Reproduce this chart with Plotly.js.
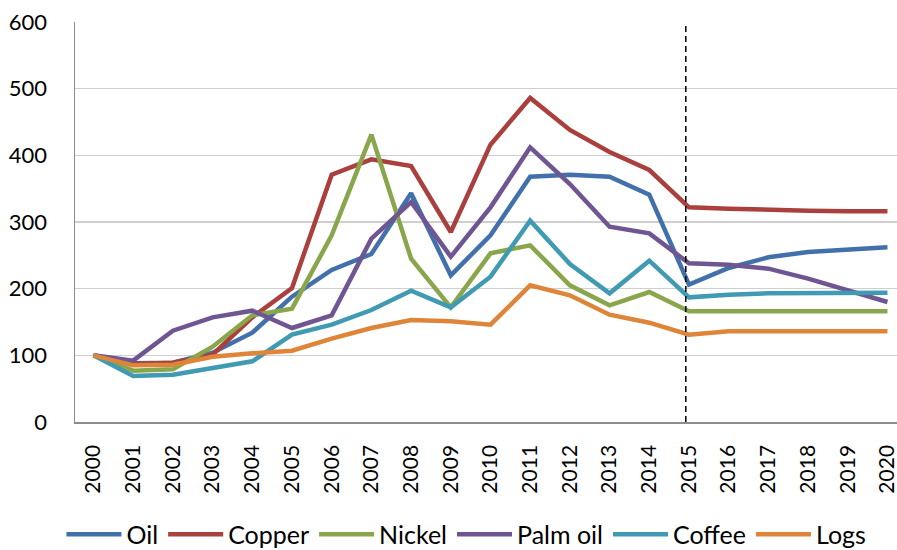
<!DOCTYPE html>
<html>
<head>
<meta charset="utf-8">
<script src="https://cdn.plot.ly/plotly-3.0.1.min.js"></script>
<style>
  html, body { margin: 0; padding: 0; background: #fff; }
  #chart { width: 897px; height: 550px; }
</style>
</head>
<body>
<div id="chart"></div>
<script>
// Commodity price indices (2000 = 100), with projections after 2015
const years = [2000, 2001, 2002, 2003, 2004, 2005, 2006, 2007, 2008, 2009, 2010,
               2011, 2012, 2013, 2014, 2015, 2016, 2017, 2018, 2019, 2020];

const oil     = [100, 88, 89, 104, 134, 188, 228, 252, 343, 220, 280, 368, 371, 368, 341, 206, 231, 247, 255, 259, 262];
const copper  = [100, 87, 89, 101, 157, 201, 371, 394, 384, 285, 416, 486, 438, 405, 378, 322, 320, 318, 317, 316, 316];
const nickel  = [100, 77, 79, 113, 160, 170, 280, 431, 245, 172, 253, 265, 205, 175, 195, 166, 166, 166, 166, 166, 166];
const palmOil = [100, 92, 137, 157, 167, 141, 160, 275, 330, 248, 322, 412, 357, 293, 283, 238, 236, 230, 215, 197, 180];
const coffee  = [100, 69, 71, 81, 91, 131, 146, 168, 197, 172, 218, 302, 237, 193, 242, 187, 191, 193, 193, 193, 194];
const logs    = [100, 85, 86, 98, 103, 107, 125, 141, 153, 151, 146, 205, 190, 161, 149, 131, 136, 136, 136, 136, 136];

const seriesNames = ['Oil', 'Copper', 'Nickel', 'Palm oil', 'Coffee', 'Logs'];
const seriesData  = [oil, copper, nickel, palmOil, coffee, logs];
const seriesColors = ['#4170AA', '#A9403D', '#8AA64C', '#6F5591', '#3F9AB2', '#DF8539'];

const yTicks = [0, 100, 200, 300, 400, 500, 600];
const forecastStart = 2014.92;

const FONT = 'Lato, "Open Sans", "DejaVu Sans", sans-serif';

const traces = seriesNames.map((name, i) => ({
  type: 'scatter',
  mode: 'lines',
  name: name,
  x: years,
  y: seriesData[i],
  line: { color: seriesColors[i], width: 4.5 },
  cliponaxis: false,
  hoverinfo: 'x+y+name'
}));

const layout = {
  width: 897,
  height: 550,
  margin: { l: 75, r: 0, t: 22, b: 128, autoexpand: false },
  paper_bgcolor: '#ffffff',
  plot_bgcolor: '#ffffff',
  font: { family: FONT, color: '#000000', size: 20 },
  showlegend: true,
  legend: {
    orientation: 'h',
    x: 0.52,
    xanchor: 'center',
    xref: 'container',
    yref: 'container',
    y: 0.028,
    yanchor: 'middle',
    itemwidth: 55,
    font: { family: FONT, size: 25, color: '#000000' },
    bgcolor: 'rgba(0,0,0,0)'
  },
  xaxis: {
    type: 'linear',
    range: [1999.534, 2020.24],
    tickmode: 'array',
    tickvals: years,
    ticktext: years.map(String),
    tickangle: -90,
    tickfont: { family: FONT, size: 21, color: '#000000' },
    ticklabelstandoff: 13,
    ticklabeloverflow: 'allow',
    automargin: false,
    showgrid: false,
    zeroline: false,
    showline: true,
    linecolor: '#8C8C8C',
    linewidth: 1.5,
    ticks: '',
    fixedrange: true
  },
  yaxis: {
    range: [0, 600],
    tickmode: 'array',
    tickvals: yTicks,
    ticktext: yTicks.map(String),
    tickfont: { family: FONT, size: 22, color: '#000000' },
    ticklabelstandoff: 22,
    automargin: false,
    showgrid: true,
    gridcolor: '#CFCFCF',
    gridwidth: 1.5,
    zeroline: false,
    showline: true,
    linecolor: '#8C8C8C',
    linewidth: 1.5,
    ticks: '',
    fixedrange: true
  },
  shapes: [{
    type: 'line',
    xref: 'x',
    yref: 'y',
    x0: forecastStart,
    x1: forecastStart,
    y0: 0,
    y1: 600,
    layer: 'above',
    line: { color: '#000000', width: 1.5, dash: '6px,4px' }
  }]
};

Plotly.newPlot('chart', traces, layout, { displayModeBar: false, staticPlot: true });
</script>
</body>
</html>
